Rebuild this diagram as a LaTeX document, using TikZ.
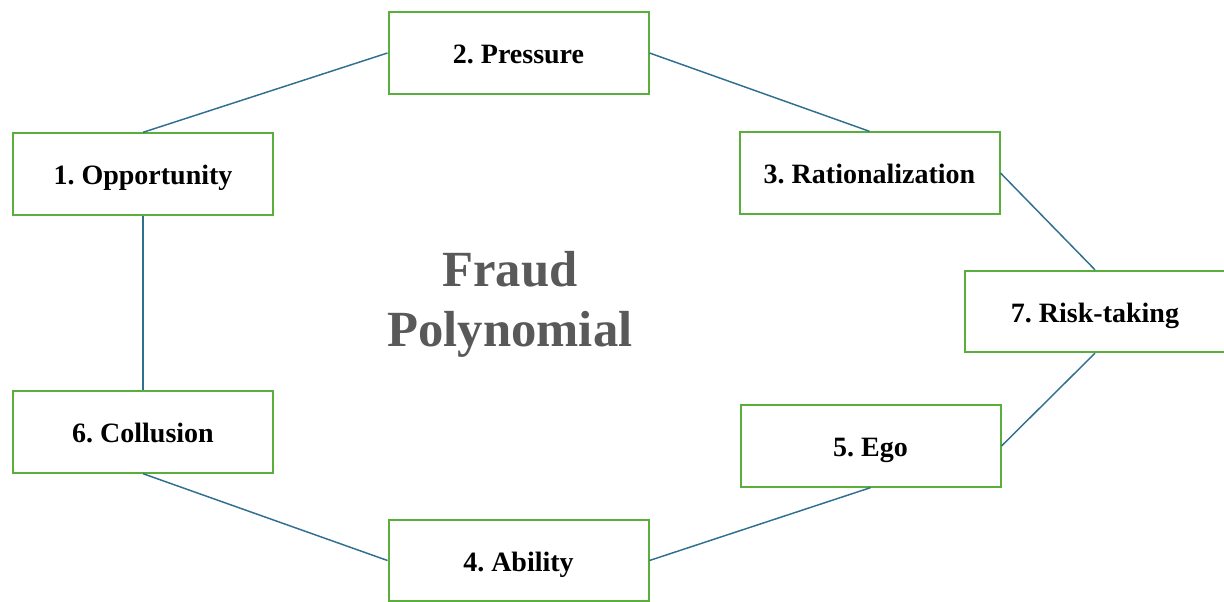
\documentclass[tikz,border=0pt]{standalone}
\usepackage{fontspec}
\setmainfont{Liberation Serif}
\usepackage{xcolor}
\usetikzlibrary{arrows.meta}
\frenchspacing

\definecolor{boxgreen}{HTML}{5AAE3C}
\definecolor{linkblue}{HTML}{2F6F8F}
\definecolor{titlegray}{HTML}{595959}

\tikzset{
  factor/.style={draw=boxgreen, line width=1.5pt, fill=white, minimum width=195pt,
    minimum height=61pt, inner sep=0pt, text height=16pt, text depth=0pt,
    font=\fontsize{21}{25}\selectfont\bfseries},
  link/.style={draw=linkblue, line width=1.1pt}
}

\begin{document}
\begin{tikzpicture}[x=0.75pt, y=-0.75pt]
\useasboundingbox (0,0) rectangle (1224,602);

% Title in the middle
\node[font=\fontsize{38}{45}\selectfont\bfseries, text=titlegray, align=center] (title) at (510,304) {Fraud\\Polynomial};

% Factor boxes
\node[factor] (opp) at (143,174) {1. Opportunity};
\node[factor] (pres) at (518.5,53) {2. Pressure};
\node[factor] (rat) at (869.5,173) {3. Rationalization};
\node[factor] (risk) at (1095,311.5) {7. Risk-taking};
\node[factor] (ego) at (870.5,446) {5. Ego};
\node[factor] (abil) at (518.5,560.5) {4. Ability};
\node[factor] (coll) at (143,432) {6. Collusion};

% Connectors around the ring
\draw[link] (opp.north) -- (pres.west);
\draw[link] (pres.east) -- (rat.north);
\draw[link] (rat.east) -- (risk.north);
\draw[link] (risk.south) -- (ego.east);
\draw[link] (ego.south) -- (abil.east);
\draw[link] (abil.west) -- (coll.south);
\draw[link] (coll.north) -- (opp.south);

\end{tikzpicture}
\end{document}
